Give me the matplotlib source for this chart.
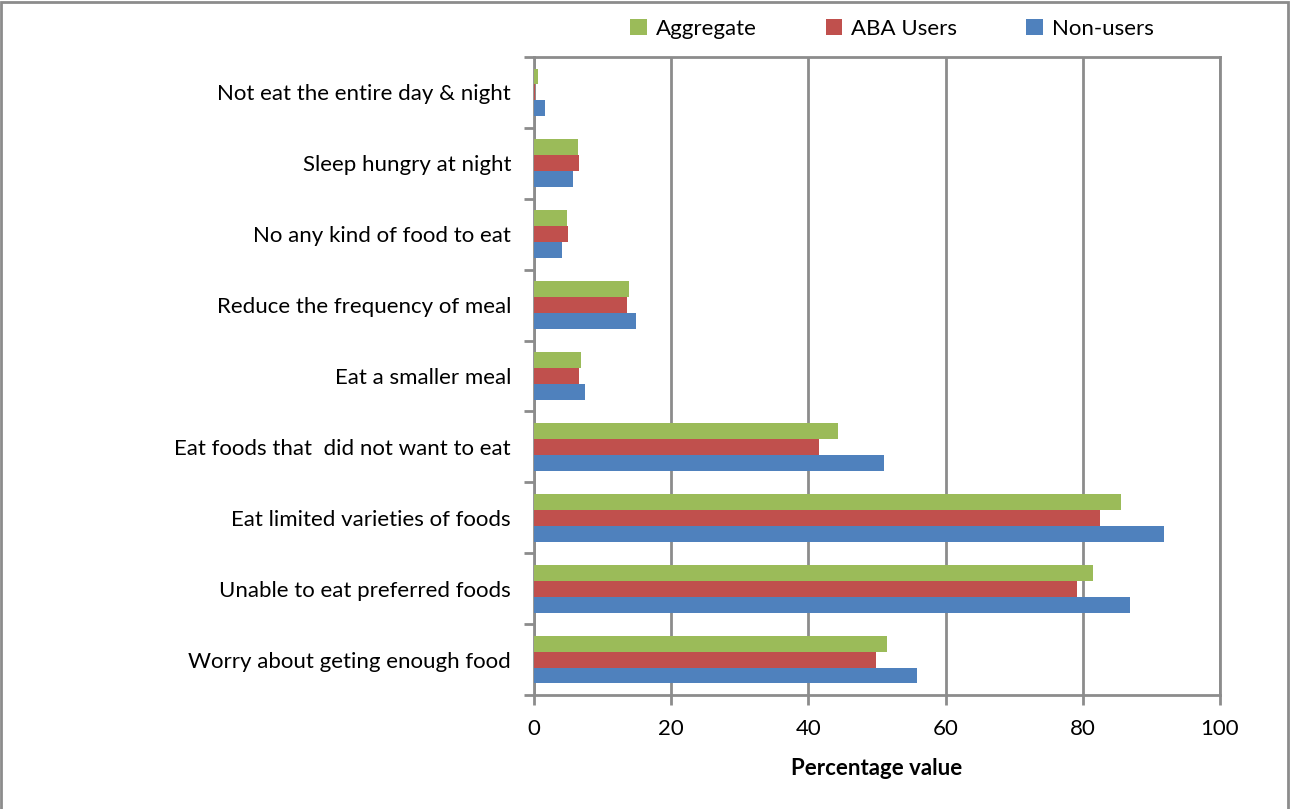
import numpy as np
import matplotlib.pyplot as plt
from matplotlib.patches import Rectangle

# categories listed bottom to top
categories = [
    'Worry about geting enough food',
    'Unable to eat preferred foods',
    'Eat limited varieties of foods',
    'Eat foods that  did not want to eat',
    'Eat a smaller meal',
    'Reduce the frequency of meal',
    'No any kind of food to eat',
    'Sleep hungry at night',
    'Not eat the entire day & night',
]
aggregate = [51.5, 81.5, 85.5, 44.3, 6.8, 13.8, 4.8, 6.4, 0.6]
aba_users = [49.8, 79.2, 82.5, 41.6, 6.6, 13.5, 5.0, 6.6, 0.2]
non_users = [55.9, 86.9, 91.9, 51.0, 7.4, 14.9, 4.1, 5.7, 1.6]

green = '#9BBB59'
red = '#C0504D'
blue = '#4F81BD'
gray = '#8C8C8C'

plt.rcParams['font.family'] = ['Lato', 'DejaVu Sans']

fig = plt.figure(figsize=(12.91, 8.09), dpi=100)
ax = fig.add_axes([534 / 1291, 1 - 695 / 809, (1220 - 534) / 1291, (695 - 57) / 809])

y = np.arange(len(categories))
h = 0.225
ax.barh(y + h, aggregate, height=h, color=green, label='Aggregate', zorder=3)
ax.barh(y, aba_users, height=h, color=red, label='ABA Users', zorder=3)
ax.barh(y - h, non_users, height=h, color=blue, label='Non-users', zorder=3)

ax.set_xlim(0, 100)
ax.set_ylim(-0.5, len(categories) - 0.5)
ax.set_xticks([0, 20, 40, 60, 80, 100])
ax.set_yticks(y)
ax.set_yticklabels(categories, fontsize=16)
ax.set_yticks(np.arange(-0.5, len(categories)), minor=True)
ax.tick_params(axis='y', which='major', length=0, pad=16.5)
ax.tick_params(axis='y', which='minor', length=7, width=2, color=gray, direction='out')
ax.tick_params(axis='x', length=7, width=2, color=gray, labelsize=16, pad=10)
ax.grid(axis='x', color=gray, linewidth=2, zorder=0)
for s in ax.spines.values():
    s.set_color(gray)
    s.set_linewidth(2)

ax.set_xlabel('Percentage value', fontsize=16, fontweight='bold', labelpad=14)

ax.legend(loc='center', bbox_to_anchor=(0.522, 1 + 28 / 638), ncol=3, frameon=False,
          fontsize=16, handlelength=0.75, handleheight=0.75, columnspacing=3.1,
          handletextpad=0.4, borderaxespad=0)

fig.patches.append(Rectangle((0.001, -0.01), 0.997, 1.008, transform=fig.transFigure,
                             fill=False, edgecolor=gray, linewidth=2))

fig.savefig('out.png', dpi=100)
